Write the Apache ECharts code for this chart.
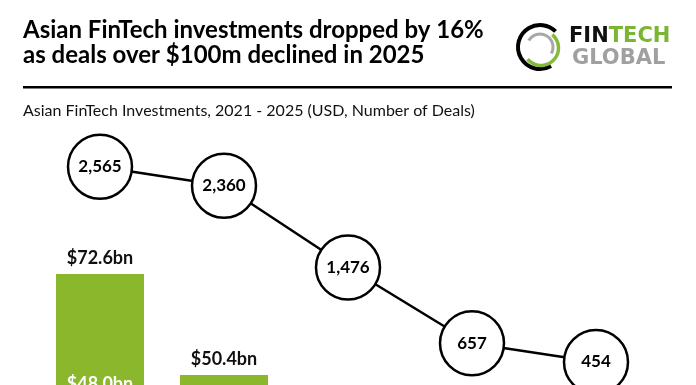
<!DOCTYPE html>
<html><head><meta charset="utf-8">
<script src="https://cdn.jsdelivr.net/npm/echarts@6/dist/echarts.min.js"></script>
<style>html,body{margin:0;padding:0;background:#fff;overflow:hidden}#c{width:696px;height:700px}</style>
</head><body><div id="c"></div>
<script>
const years = ['2021','2022','2023','2024','2025'];
const totalInvest = [72.6, 50.4, 22.5, 14.8, 12.4];   // USD bn
const innerInvest = [48.0, 30.1, 11.2, 6.5, 4.9];     // USD bn (inner segment, only 2021 visible)
const dealCounts = [2565, 2360, 1476, 657, 454];

const GREEN = '#8ab72b';
const chart = echarts.init(document.getElementById('c'), null, {renderer:'canvas'});
const upper = totalInvest.map((t,i)=> +(t - innerInvest[i]).toFixed(1));

chart.setOption({
  animation:false,
  backgroundColor:'#fff',
  textStyle:{fontFamily:'Lato'},
  grid:[
    {left:38, right:38, top:240.3, height:364},
    {left:38, right:38, top:126.5, height:277.5}
  ],
  xAxis:[
    {type:'category', data:years, gridIndex:0, show:false},
    {type:'category', data:years, gridIndex:1, show:false}
  ],
  yAxis:[
    {type:'value', gridIndex:0, min:0, max:80, show:false},
    {type:'value', gridIndex:1, min:0, max:3000, show:false}
  ],
  series:[
    {type:'bar', name:'inner', stack:'inv', xAxisIndex:0, yAxisIndex:0, barWidth:88,
     data:innerInvest, itemStyle:{color:GREEN},
     label:{show:true, position:'insideTop', offset:[0,-16], color:'#fff', fontWeight:'bold', fontSize:18, fontFamily:'Lato',
       formatter:p=>'$'+p.value.toFixed(1)+'bn'}},
    {type:'bar', name:'upper', stack:'inv', xAxisIndex:0, yAxisIndex:0, barWidth:88,
     data:upper, itemStyle:{color:GREEN},
     label:{show:true, position:'top', distance:7, color:'#111', fontWeight:'bold', fontSize:18, fontFamily:'Lato',
       formatter:p=>'$'+totalInvest[p.dataIndex].toFixed(1)+'bn'}},
    {type:'line', name:'deals', xAxisIndex:1, yAxisIndex:1, data:dealCounts, z:5,
     symbol:'circle', symbolSize:64, lineStyle:{color:'#000', width:2.5},
     itemStyle:{color:'#fff', borderColor:'#000', borderWidth:2.5},
     label:{show:true, position:'inside', color:'#000', fontWeight:'bold', fontSize:17, fontFamily:'Lato',
       formatter:p=>p.value.toLocaleString('en-US')}}
  ],
  graphic:[
    {type:'text', left:23, top:18, style:{text:'Asian FinTech investments dropped by 16%', font:'bold 24px Lato', fill:'#000'}},
    {type:'text', left:23, top:43, style:{text:'as deals over $100m declined in 2025', font:'bold 24px Lato', fill:'#000'}},
    {type:'rect', shape:{x:23, y:86, width:649, height:2.5}, style:{fill:'#000'}},
    {type:'text', left:23, top:103, style:{text:'Asian FinTech Investments, 2021 - 2025 (USD, Number of Deals)', font:'16px Lato', fill:'#111'}},
    {type:'arc', shape:{cx:540, cy:47, r:22, startAngle:Math.PI/3, endAngle:Math.PI*7/4, clockwise:true}, style:{stroke:'#000', lineWidth:4, fill:null}},
    {type:'arc', shape:{cx:541, cy:48, r:17.5, startAngle:-50*Math.PI/180, endAngle:140*Math.PI/180, clockwise:true}, style:{stroke:'#86b83a', lineWidth:3.5, fill:null}},
    {type:'arc', shape:{cx:540, cy:47, r:13, startAngle:-150*Math.PI/180, endAngle:30*Math.PI/180, clockwise:true}, style:{stroke:'#a8a8a8', lineWidth:3, fill:null}},
    {type:'text', left:569, top:26, style:{rich:{a:{font:'bold 21px "DejaVu Sans"', fill:'#111'}, b:{font:'bold 21px "DejaVu Sans"', fill:'#7ab534'}}, text:'{a|FIN}{b|TECH}'}},
    {type:'text', left:572, top:48, style:{text:'GLOBAL', font:'bold 21px "DejaVu Sans"', fill:'#a0a0a0'}}
  ]
});
</script></body></html>
